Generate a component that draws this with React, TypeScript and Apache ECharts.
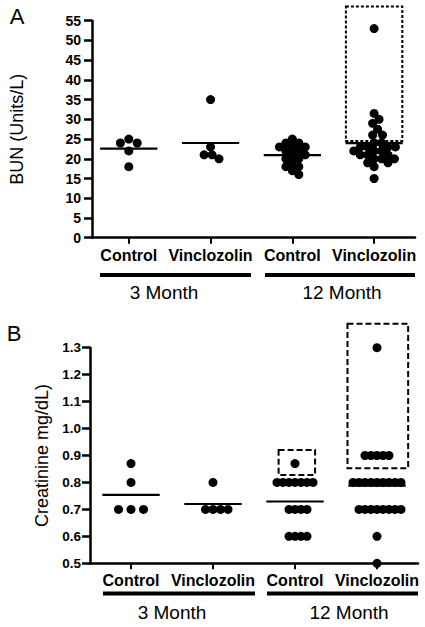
import React, { useEffect, useRef } from "react";
import * as echarts from "echarts";

// ---------- data ----------
const CATEGORIES = ["Control", "Vinclozolin", "Control", "Vinclozolin"];
const GROUPS = ["3 Month", "12 Month"];

// Panel A: BUN (Units/L)
const BUN_CTRL_3M = [25, 24, 24, 22, 18];
const BUN_VINC_3M = [35, 23, 21, 21, 20];
const BUN_CTRL_12M = [25, 24, 24, 23, 23, 23, 22, 22, 21, 21, 20, 20, 19, 18, 18, 17, 16];
const BUN_VINC_12M = [53, 31.5, 30, 29, 27.5, 26, 26, 24, 24, 23, 23, 23, 23, 22, 22, 22, 21, 21, 21, 20, 20, 20, 19, 19, 18, 15];

// Panel B: Creatinine mg/dL
const CRE_CTRL_3M = [0.87, 0.8, 0.7, 0.7, 0.7];
const CRE_VINC_3M = [0.8, 0.7, 0.7, 0.7, 0.7];
const CRE_CTRL_12M = [0.87, 0.8, 0.8, 0.8, 0.8, 0.8, 0.8, 0.8, 0.7, 0.7, 0.7, 0.7, 0.6, 0.6, 0.6, 0.6];
const CRE_VINC_12M = [1.3, 0.9, 0.9, 0.9, 0.9, 0.9, 0.8, 0.8, 0.8, 0.8, 0.8, 0.8, 0.8, 0.8, 0.8, 0.7, 0.7, 0.7, 0.7, 0.7, 0.7, 0.7, 0.7, 0.6, 0.5];

// highlighted ranges (category index, low value, high value)
const BUN_BOXES = [[3, 24.5, 58.6]];
const CRE_BOXES = [[2, 0.828, 0.92], [3, 0.853, 1.389]];

// axis ranges
const BUN_AXIS = { min: 0, max: 55, interval: 5 };
const CRE_AXIS = { min: 0.5, max: 1.3, interval: 0.1 };

// ---------- styling / layout ----------
const FONT = "'Liberation Sans', Arial, Helvetica, sans-serif";
const GRID_A = { left: 89, top: 20.7, width: 326, height: 217 };
const GRID_B = { left: 90, top: 347.7, width: 328, height: 215.6 };
const XMIN_A = -0.45, XMAX_A = 3.5;
const XMIN_B = -0.5, XMAX_B = 3.5;
const MEAN_HALF = 0.35;
const BOX_A_EXT = [[-0.345, 0.345]];
const BOX_B_EXT = [[-0.2, 0.245], [-0.36, 0.38]];
const SPREAD_A = [9, 8, 7.5, 7.5];
const SPREAD_B = [12.5, 7.5, 5.8, 5.8];

const mean = (a: number[]) => a.reduce((s, v) => s + v, 0) / a.length;

function swarm(values: number[], center: number, pxX: number, pxY: number, dist: number) {
  const placed: [number, number][] = [];
  const out: [number, number][] = [];
  for (const v of values) {
    const yp = v * pxY;
    let best = 0;
    for (let k = 0; k < 400; k++) {
      const cand = k === 0 ? 0 : (k % 2 ? 1 : -1) * Math.ceil(k / 2) * 0.5;
      if (placed.every(([px, py]) => Math.hypot(px - cand, py - yp) >= dist)) {
        best = cand;
        break;
      }
    }
    placed.push([best, yp]);
    out.push([center + best / pxX, v]);
  }
  return out;
}

export default function App() {
  const ref = useRef<HTMLDivElement>(null);
  useEffect(() => {
    if (!ref.current) return;
    const chart = echarts.init(ref.current, undefined, { renderer: "svg" });

    const pxXA = GRID_A.width / (XMAX_A - XMIN_A);
    const pxYA = GRID_A.height / (BUN_AXIS.max - BUN_AXIS.min);
    const pxXB = GRID_B.width / (XMAX_B - XMIN_B);
    const pxYB = GRID_B.height / (CRE_AXIS.max - CRE_AXIS.min);

    const bunGroups = [BUN_CTRL_3M, BUN_VINC_3M, BUN_CTRL_12M, BUN_VINC_12M];
    const creGroups = [CRE_CTRL_3M, CRE_VINC_3M, CRE_CTRL_12M, CRE_VINC_12M];

    const bunPoints = bunGroups.flatMap((g, i) => swarm(g, i, pxXA, pxYA, SPREAD_A[i]));
    const crePoints = creGroups.flatMap((g, i) => swarm(g, i, pxXB, pxYB, SPREAD_B[i]));
    const bunMeans = bunGroups.map((g, i) => [i, mean(g)]);
    const creMeans = creGroups.map((g, i) => [i, mean(g)]);

    const xAxisBase = (idx: number, min: number, max: number, fs: number, margin: number) => ({
      type: "value",
      gridIndex: idx,
      min,
      max,
      splitLine: { show: false },
      axisLine: { show: true, onZero: false, lineStyle: { color: "#000", width: 2.5 } },
      axisTick: { show: true, customValues: [0, 1, 2, 3], length: 6, lineStyle: { color: "#000", width: 2 } },
      axisLabel: {
        show: true,
        customValues: [0, 1, 2, 3],
        formatter: (v: number) => CATEGORIES[Math.round(v)] ?? "",
        color: "#000",
        fontWeight: "bold",
        fontSize: fs,
        fontFamily: FONT,
        margin,
      },
    });

    const yAxisBase = (idx: number, ax: any, fs: number, margin: number, name: string, nameGap: number, dec: number) => ({
      type: "value",
      gridIndex: idx,
      min: ax.min,
      max: ax.max,
      interval: ax.interval,
      splitLine: { show: false },
      axisLine: { show: true, onZero: false, lineStyle: { color: "#000", width: 2.5 } },
      axisTick: { show: true, length: 8, lineStyle: { color: "#000", width: 2.5 } },
      axisLabel: {
        color: "#000",
        fontWeight: "bold",
        fontSize: fs,
        fontFamily: FONT,
        margin,
        formatter: (v: number) => v.toFixed(dec),
      },
      name,
      nameLocation: "middle",
      nameRotate: 90,
      nameGap,
      nameTextStyle: { color: "#000", fontSize: 18, fontFamily: FONT },
    });

    const meanSeries = (idx: number, data: number[][]) => ({
      type: "custom",
      xAxisIndex: idx,
      yAxisIndex: idx,
      z: 5,
      clip: false,
      data,
      renderItem: (_p: any, api: any) => {
        const x = api.value(0);
        const m = api.value(1);
        const p1 = api.coord([x - MEAN_HALF, m]);
        const p2 = api.coord([x + MEAN_HALF, m]);
        return {
          type: "line",
          shape: { x1: p1[0], y1: p1[1], x2: p2[0], y2: p2[1] },
          style: { stroke: "#000", lineWidth: 2.2 },
        };
      },
    });

    const boxSeries = (idx: number, boxes: number[][], ext: number[][], dash: number[]) => ({
      type: "custom",
      xAxisIndex: idx,
      yAxisIndex: idx,
      z: 6,
      clip: false,
      data: boxes.map((b) => [b[0], b[1], b[2]]),
      renderItem: (params: any, api: any) => {
        const c = api.value(0);
        const lo = api.value(1);
        const hi = api.value(2);
        const e = ext[params.dataIndex];
        const p1 = api.coord([c + e[0], hi]);
        const p2 = api.coord([c + e[1], lo]);
        return {
          type: "rect",
          shape: { x: p1[0], y: p1[1], width: p2[0] - p1[0], height: p2[1] - p1[1] },
          style: { fill: "none", stroke: "#000", lineWidth: 2, lineDash: dash },
        };
      },
    });

    const scatter = (idx: number, data: number[][]) => ({
      type: "scatter",
      xAxisIndex: idx,
      yAxisIndex: idx,
      symbol: "circle",
      symbolSize: 9,
      itemStyle: { color: "#000", opacity: 1 },
      data,
      z: 3,
      clip: false,
    });

    const option: any = {
      animation: false,
      backgroundColor: "#fff",
      grid: [
        { ...GRID_A, containLabel: false },
        { ...GRID_B, containLabel: false },
      ],
      xAxis: [xAxisBase(0, XMIN_A, XMAX_A, 16, 10), xAxisBase(1, XMIN_B, XMAX_B, 16, 9)],
      yAxis: [
        yAxisBase(0, BUN_AXIS, 14, 11, "BUN (Units/L)", 66, 0),
        yAxisBase(1, CRE_AXIS, 13.5, 9, "Creatinine mg/dL)", 38, 1),
      ],
      series: [
        scatter(0, bunPoints),
        scatter(1, crePoints),
        meanSeries(0, bunMeans),
        meanSeries(1, creMeans),
        boxSeries(0, BUN_BOXES, BOX_A_EXT, [3, 2]),
        boxSeries(1, CRE_BOXES, BOX_B_EXT, [6, 3]),
      ],
      graphic: [
        { type: "text", x: 17, y: 16, style: { text: "A", fontSize: 22, fontFamily: FONT, fill: "#000", align: "center", verticalAlign: "middle" } },
        { type: "text", x: 14, y: 333, style: { text: "B", fontSize: 22, fontFamily: FONT, fill: "#000", align: "center", verticalAlign: "middle" } },
        { type: "line", shape: { x1: 100, y1: 275, x2: 251, y2: 275 }, style: { stroke: "#000", lineWidth: 4 } },
        { type: "line", shape: { x1: 265, y1: 275, x2: 415, y2: 275 }, style: { stroke: "#000", lineWidth: 4 } },
        { type: "line", shape: { x1: 103, y1: 593.5, x2: 255, y2: 593.5 }, style: { stroke: "#000", lineWidth: 4 } },
        { type: "line", shape: { x1: 267, y1: 593.5, x2: 418, y2: 593.5 }, style: { stroke: "#000", lineWidth: 4 } },
        { type: "text", x: 164, y: 292, style: { text: GROUPS[0], fontSize: 19, fontFamily: FONT, fill: "#000", align: "center", verticalAlign: "middle" } },
        { type: "text", x: 342, y: 292, style: { text: GROUPS[1], fontSize: 19, fontFamily: FONT, fill: "#000", align: "center", verticalAlign: "middle" } },
        { type: "text", x: 172, y: 612.5, style: { text: GROUPS[0], fontSize: 19, fontFamily: FONT, fill: "#000", align: "center", verticalAlign: "middle" } },
        { type: "text", x: 349, y: 612.5, style: { text: GROUPS[1], fontSize: 19, fontFamily: FONT, fill: "#000", align: "center", verticalAlign: "middle" } },
      ],
    };
    chart.setOption(option);
    return () => chart.dispose();
  }, []);

  return (
    <div
      ref={ref}
      style={{ position: "absolute", left: 0, top: 0, width: 425, height: 627, background: "#fff" }}
    />
  );
}
